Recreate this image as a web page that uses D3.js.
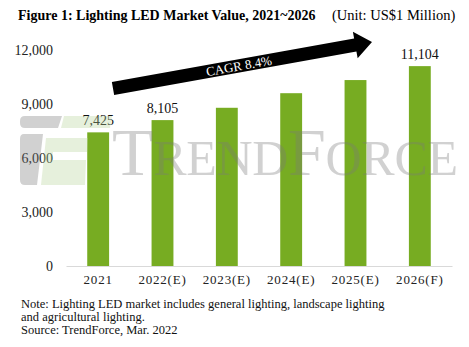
<!DOCTYPE html>
<html lang="en">
<head>
    <meta charset="UTF-8">
    <title>Lighting LED Market Value</title>
    <script src="https://d3js.org/d3.v7.min.js"></script>
    <style>
        body { margin: 0; background: #fff; }
        svg { display: block; }
    </style>
</head>
<body>
    <svg id="chart"></svg>

    <script>
        const years = ["2021", "2022(E)", "2023(E)", "2024(E)", "2025(E)", "2026(F)"];
        const values = [7425, 8105, 8790, 9600, 10330, 11104];
        const labelled = ["2021", "2022(E)", "2026(F)"];
        const yTicks = [0, 3000, 6000, 9000, 12000];
        const noteLines = [
            "Note: Lighting LED market includes general lighting, landscape lighting",
            "and agricultural lighting.",
            "Source: TrendForce, Mar. 2022"
        ];

        const W = 469, H = 347;
        const serif = "'Liberation Serif', 'Times New Roman', serif";

        const svg = d3.select("#chart")
            .attr("width", W)
            .attr("height", H)
            .style("font-family", serif);

        const x = d3.scaleBand()
            .domain(years)
            .range([66, 452])
            .paddingInner(0.66)
            .paddingOuter(0.33);

        const y = d3.scaleLinear()
            .domain([0, 12000])
            .range([266, 50]);

        // title
        svg.append("text")
            .attr("x", 18).attr("y", 20)
            .attr("font-weight", "bold")
            .attr("font-size", 14)
            .text("Figure 1: Lighting LED Market Value, 2021~2026");
        svg.append("text")
            .attr("x", 332).attr("y", 20)
            .attr("font-size", 14.5)
            .text("(Unit: US$1 Million)");

        // y axis labels
        const yAxis = svg.append("g")
            .attr("transform", "translate(56,0)")
            .call(d3.axisLeft(y).tickValues(yTicks).tickSize(0).tickPadding(3).tickFormat(d3.format(",")));
        yAxis.select(".domain").remove();
        yAxis.selectAll("text")
            .style("font-family", serif)
            .style("font-size", "14px")
            .attr("fill", "#222");

        // bars
        svg.selectAll("rect.bar")
            .data(years)
            .enter()
            .append("rect")
            .attr("class", "bar")
            .attr("x", (d) => x(d))
            .attr("y", (d, i) => y(values[i]))
            .attr("width", x.bandwidth())
            .attr("height", (d, i) => y(0) - y(values[i]))
            .attr("fill", "#77ac22");

        // x axis
        const xAxis = svg.append("g")
            .attr("transform", `translate(0,${y(0)})`)
            .call(d3.axisBottom(x).tickSize(0).tickPadding(9));
        xAxis.select(".domain").attr("stroke", "#d9d9d9");
        xAxis.selectAll("text")
            .style("font-family", serif)
            .style("font-size", "13px")
            .style("letter-spacing", "0.8px")
            .attr("fill", "#222");

        // value labels
        svg.selectAll("text.val")
            .data(years.filter((d) => labelled.includes(d)))
            .enter()
            .append("text")
            .attr("class", "val")
            .attr("x", (d) => x(d) + x.bandwidth() / 2)
            .attr("y", (d) => y(values[years.indexOf(d)]) - 7)
            .attr("text-anchor", "middle")
            .attr("font-size", 14)
            .attr("fill", "#111")
            .text((d) => d3.format(",")(values[years.indexOf(d)]));

        // watermark logo
        const wm = svg.append("g").attr("opacity", 0.34);
        wm.append("path")
            .attr("d", "M25,116 L62,116 L58,128 L25,128 Q20,128 20,123 L20,121 Q20,116 25,116 Z M24,134 L43,134 L37,185 L25,185 Q20,185 20,180 L20,139 Q20,134 24,134 Z")
            .attr("fill", "#7a7a7a");
        wm.append("path")
            .attr("d", "M64,116 L112,116 L110,128 L61,128 Z M46,138 L88,138 L87,152 L53,152 L52,160 L86,160 L85,185 L41,185 Z")
            .attr("fill", "#b8d69a");
        const wt = wm.append("text")
            .attr("x", 112).attr("y", 175)
            .attr("fill", "#7a7a7a")
            .attr("textLength", 346)
            .attr("lengthAdjust", "spacing");
        wt.append("tspan").attr("font-size", 68).text("T");
        wt.append("tspan").attr("font-size", 50).text("REND");
        wt.append("tspan").attr("font-size", 68).text("F");
        wt.append("tspan").attr("font-size", 50).text("ORCE");

        // CAGR arrow
        const x0 = 113, y0 = 88.5, x1 = 372, y1 = 42;
        const len = Math.hypot(x1 - x0, y1 - y0);
        const ang = Math.atan2(y1 - y0, x1 - x0) * 180 / Math.PI;
        const hl = 17, sw = 6.5, hw = 13.5;
        const arrow = svg.append("g")
            .attr("transform", `translate(${x0},${y0}) rotate(${ang})`);
        arrow.append("path")
            .attr("d", `M0,${-sw} L${len - hl},${-sw} L${len - hl},${-hw} L${len},0 L${len - hl},${hw} L${len - hl},${sw} L0,${sw} Z`)
            .attr("fill", "#000");
        arrow.append("text")
            .attr("x", 128).attr("y", 0)
            .attr("dy", "0.35em")
            .attr("text-anchor", "middle")
            .attr("font-size", 13)
            .attr("fill", "#fff")
            .text("CAGR 8.4%");

        // notes
        svg.selectAll("text.note")
            .data(noteLines)
            .enter()
            .append("text")
            .attr("class", "note")
            .attr("x", 21)
            .attr("y", (d, i) => 308 + i * 13)
            .attr("font-size", 12.5)
            .attr("fill", "#111")
            .text((d) => d);
    </script>
</body>
</html>
